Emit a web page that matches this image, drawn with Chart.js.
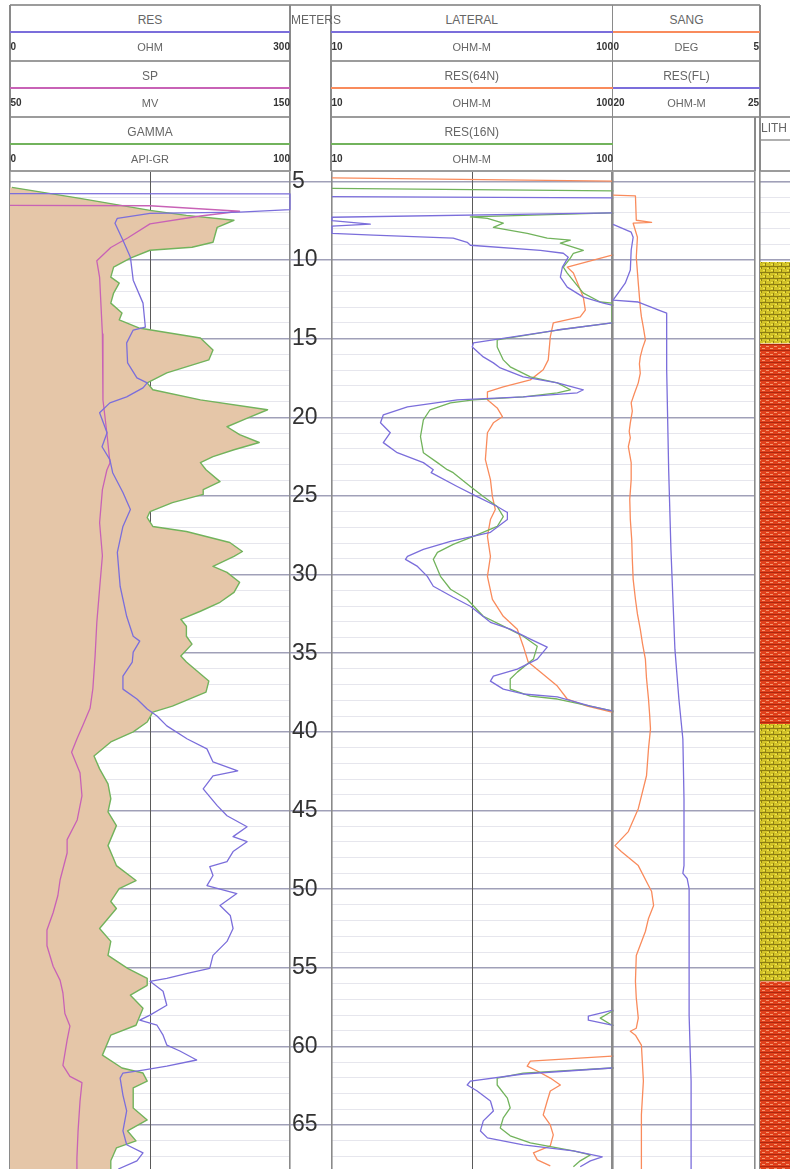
<!DOCTYPE html>
<html>
<head>
<meta charset="utf-8">
<title>Well log</title>
<script src="https://cdn.jsdelivr.net/npm/chart.js@4.4.1/dist/chart.umd.min.js"></script>
<style>
  html, body { margin:0; padding:0; background:#fff; }
  #page { position:relative; width:790px; height:1169px; overflow:hidden; font-family:"Liberation Sans", Arial, sans-serif; }
  #page canvas { position:absolute; top:171px; }
  .ln { position:absolute; }
  .tx { position:absolute; white-space:nowrap; line-height:1; }
</style>
</head>
<body>
<div id="page">
  <canvas id="track1" width="284" height="998" style="left:8px"></canvas>
  <canvas id="depthTrack" width="41" height="998" style="left:290px"></canvas>
  <canvas id="track2" width="284" height="998" style="left:330px"></canvas>
  <canvas id="track3" width="146" height="998" style="left:611px"></canvas>
  <canvas id="lithTrack" width="34" height="998" style="left:758px"></canvas>
</div>
<script>
// ---------------- DATA ----------------
const depthLabels = [5, 10, 15, 20, 25, 30, 35, 40, 45, 50, 55, 60, 65];

// Track 1
const gammaDepth = [
  5.38,6.08,6.84,7.16,7.47,7.92,8.87,9.19,9.38,9.88,
  10.45,11.09,11.47,12.1,12.74,13.37,13.81,14.32,14.96,15.72,
  16.35,17.17,17.81,18.25,18.89,19.52,20.03,20.6,21.1,21.6,
  22.06,22.5,22.88,23.33,24.09,24.6,24.9,25.42,25.99,26.37,
  26.94,27.26,27.96,28.53,28.84,29.48,29.86,30.49,31.13,31.76,
  32.33,32.84,33.28,33.92,34.42,35.18,35.56,36.77,37.47,38.36,
  38.74,39.37,40.0,40.64,41.53,42.35,43.3,44.25,45.08,45.96,
  47.23,48.06,48.5,49.45,49.96,50.78,51.23,51.86,52.5,53.32,
  54.21,55.03,55.67,56.11,56.74,57.57,58.65,59.28,60.55,61.37,
  61.69,62.2,62.64,63.91,64.67,65.37,66.0,66.45,67.27,67.79];
const gammaApi = [
  0.7,25,50,63,80,74,72.5,65,50,43,
  37,36,39,37,36,40,39,46,68,72.5,
  71,56,49,51,68,92,85,77.5,82,89,
  80,72.5,68,70,75,69,69,58,50,49,
  51,63,78.5,83,80,72.5,77.5,82,80,75,
  68,61,63,63,65,61,63,71,70,58,
  51,49,44,36,30,32,35,36,35,38,
  35,37,38,45,39,36,38,35,32,36,
  35,42,49,49,43,47.5,45,36,33,40,
  47.5,49,44,44,49,42,45,38,36,36];

const resDepth = [
  5.78,5.79,6.79,6.95,7.03,7.35,7.66,8.74,9.82,11.28,
  12.74,14.26,14.45,15.27,16.54,17.49,17.81,18.13,18.7,19.08,
  19.71,20.35,20.98,21.87,22.69,23.52,24.78,25.86,26.94,28.59,
  30.74,32.65,33.92,34.23,34.93,35.56,36.45,37.28,37.91,38.54,
  38.99,39.62,40.45,41.08,41.91,42.48,42.79,43.62,44.69,45.33,
  46.03,46.66,46.98,47.61,48.25,48.56,49.13,49.77,50.28,51.04,
  51.67,52.5,53.32,54.21,55.03,55.35,55.67,55.86,56.49,57.38,
  58.01,58.33,58.65,59.28,59.91,60.29,60.86,61.25,61.5,61.69,
  62.01,63.09,64.1,65.37,66.25,66.76,67.27,67.79];
const resOhm = [
  0,300,300,246,150,115,112.5,121,129,132,
  142.5,145,132,125,126,136,147,142.5,125,107,
  96,100,104,98.6,107,110,121,129,121,115,
  118,125,132,139,132,131,121,121,136,147,
  157.5,168,190,211,217.5,244,217.5,207,222,232.5,
  254,239,254,239,232.5,214,217.5,211,243,225,
  236,239,232.5,217.5,214,190,168,150,164,168,
  150,139,157.5,164,168,182,200,168,142.5,121,
  118,121,125,121,125,142.5,136,116];

const spDepth = [
  6.52,6.55,6.9,7.2,7.7,8.6,9.2,10.05,11.1,14.7,
  18.9,21.0,22.9,23.35,24.6,26.7,28.8,30.9,33.06,35.15,
  37.24,38.5,39.6,40.4,41.3,42.6,44.06,45.6,46.85,47.7,
  49.4,50.4,51.5,52.6,53.6,54.9,55.8,56.6,57.9,58.7,
  59.6,61.2,61.9,62.3,63.5,65.4,67.1,67.79];
const spMv = [
  50,100,132,118,100,92,86,81,82,83,
  83.2,84.6,85.7,84.6,83,82,83,82,81,80.4,
  79.6,78.6,76,74,72,75,75.7,74,70.4,70.4,
  67.9,67.1,65.4,63.2,63.2,65.4,67.9,68.9,69.6,71.4,
  70.4,68.9,71.4,75.7,75,74.3,73.9,73.9];

// Track 2
const lateralDepth = [
  5.97,6.05,6.1,6.95,7.0,7.28,7.5,7.72,7.85,8.3,
  8.42,8.61,8.87,9.06,9.38,9.57,9.82,10.45,11.09,11.72,
  12.36,12.74,12.87,13.0,13.95,14.0,14.45,15.27,15.53,16.16,
  16.54,16.86,17.43,17.81,18.25,18.44,18.7,18.89,19.33,19.84,
  20.35,20.98,21.61,22.25,22.88,23.33,23.52,24.4,25.04,25.67,
  26.05,26.5,27.31,27.89,28.4,28.84,29.03,29.48,30.11,30.74,
  31.44,32.01,33.03,33.47,34.1,34.61,35.37,36.01,36.45,36.77,
  37.28,37.59,37.78,38.36,38.67,38.8,57.6,57.7,58.07,58.33,
  58.65,58.8,61.3,61.37,61.75,62.2,62.45,62.83,63.47,64.1,
  64.73,65.37,65.81,66.25,66.64,67.02,67.27,67.65];
const lateralOhmm = [
  10,100,150,150,100,10,10,13.7,10,10,
  14.05,27.1,30.4,31.2,55.5,67.0,69.8,66.5,65.4,69.2,
  79.0,93.1,100,150,150,100,63.8,32.0,31.7,34.7,
  37.7,39.9,48.2,63.8,79.0,75.2,48.2,28.0,18.6,15.25,
  14.9,16.15,15.25,17.1,21.2,23.0,22.6,28.0,33.0,38.9,
  42.3,42.3,36.8,26.5,21.2,18.6,18.3,20.2,21.9,23.0,
  27.1,31.2,36.8,43.3,51.1,58.7,54.1,45.9,37.7,36.8,
  40.9,48.2,63.8,83.7,100,150,150,100,82.3,82.3,
  100,150,150,100,48.2,31.2,30.4,33.0,36.8,37.7,
  34.7,33.9,35.9,48.2,72.8,92.3,83.7,77.0];

const res64Depth = [
  4.78,4.98,5.05,9.6,9.69,10.45,10.83,12.36,13.18,13.62,
  14.0,14.89,16.35,16.98,17.62,18.06,18.38,18.89,19.4,19.96,
  20.35,20.98,22.69,23.96,25.04,25.86,26.5,27.57,28.84,30.11,
  31.57,32.65,33.47,34.55,35.56,36.2,37.09,37.91,38.36,38.74,
  38.85,60.5,60.61,60.93,61.25,61.56,62.01,62.45,62.83,63.47,
  64.35,64.99,65.62,66.32,66.76,67.21,67.59];
const res64Ohmm = [
  10,100,150,150,100,69.2,72.8,79,80.3,77,
  61.7,60.2,59.2,56.8,51.1,40.9,35.9,35.9,38.9,40.6,
  37.7,35.9,35.3,36.8,37.4,38.3,36.8,35.9,36.8,35.9,
  37.4,40.9,45.9,48.2,50.2,55.5,63.8,69.2,81.6,100,
  150,150,100,51.1,49.8,54.1,60.2,65.4,60.2,58.7,
  56.8,60.2,61.7,60.2,52.4,54.1,60.2];

const res16Depth = [
  5.45,5.6,5.65,6.95,7.0,7.26,7.35,7.66,7.92,8.3,
  8.61,8.74,8.93,9.38,9.57,9.88,10.45,10.83,12.1,12.67,
  12.74,14.0,14.45,15.08,15.53,16.35,16.79,17.43,17.81,18.25,
  18.44,18.7,18.89,19.08,19.52,20.16,21.23,22.25,22.88,23.33,
  23.52,24.4,25.04,25.67,26.31,26.94,27.57,28.08,28.59,29.03,
  30.11,30.93,31.57,32.65,33.28,33.92,34.55,35.37,36.2,36.64,
  37.28,37.72,37.91,38.36,38.67,38.8,57.65,57.76,58.2,58.65,
  58.75,61.3,61.37,61.69,62.01,62.45,63.28,63.91,64.54,65.18,
  65.68,66.13,66.64,66.89,67.27,67.65];
const res16Ohmm = [
  10,100,150,150,100,31.2,35.9,40.9,37.7,49.8,
  58.7,71.0,65.4,79.0,72.8,71.0,67.0,69.2,79.0,90.8,
  100,100,63.8,38.9,38.9,40.9,43.3,51.1,63.8,71.0,
  63.8,48.2,32.0,26.5,22.4,21.2,20.7,21.2,23.8,25.8,
  27.1,31.2,34.7,38.9,40.9,38.9,32.0,27.1,23.8,23.0,
  24.4,26.5,30.4,34.7,40.9,48.2,54.1,52.4,45.9,43.3,
  43.3,51.1,63.8,83.7,100,150,150,100,90.8,100,
  150,150,100,48.2,38.9,38.9,42.3,43.3,40.9,39.9,
  43.3,51.1,72.8,83.7,77.0,72.8];

// Track 3
const sangDepth = [
  5.88,5.92,7.47,7.6,7.66,8.55,9.82,11.47,12.99,13.6,
  14.3,15.08,15.6,16.16,16.6,17.2,17.81,18.5,19.08,19.6,
  20.35,20.9,21.3,21.87,22.88,23.96,25.2,26.5,27.8,29.03,
  30.3,31.57,32.5,33.47,34.4,35.37,36.6,37.91,38.9,39.81,
  41.08,42.79,44.88,46.34,47.23,47.61,48.5,49.77,50.15,51.04,
  51.86,52.69,54.21,55.86,56.93,58.2,58.84,59.03,59.28,59.91,
  62.2,64.35,67.52,67.79];
const sangDeg = [
  0,0.79,0.82,1.36,0.71,0.86,0.82,0.89,0.96,1.0,
  1.07,1.14,1.04,0.96,0.93,0.96,0.89,0.75,0.64,0.68,
  0.61,0.57,0.61,0.54,0.64,0.64,0.59,0.61,0.66,0.68,
  0.71,0.79,0.86,0.96,1.04,1.14,1.18,1.25,1.29,1.32,
  1.25,1.18,0.89,0.54,0.07,0.29,0.89,1.25,1.36,1.43,
  1.25,1.14,0.82,0.79,0.82,0.89,0.82,0.61,0.79,1.0,
  1.07,1.0,1.0,1.0];

const resFlDepth = [
  7.73,8.23,8.55,9.38,10.64,11.47,12.1,12.55,12.67,13.18,
  13.37,16.98,23.33,28.4,34.74,37.91,40.45,44.25,48.5,49.0,
  49.32,49.96,58.01,62.2,67.79];
const resFlOhmm = [
  20.0,20.64,20.71,20.64,20.61,20.43,20.18,20.0,20.89,21.61,
  21.89,21.89,21.96,22.04,22.18,22.32,22.46,22.5,22.5,22.46,
  22.61,22.68,22.68,22.75,22.75];

// Lithology
const lithTop  = [10.12, 15.3, 39.5, 55.86];
const lithBase = [15.3, 39.5, 55.86, 67.79];
const lithKind = ['sand', 'shale', 'sand', 'shale'];

// Header labels
const t1Names = ['RES', 'SP', 'GAMMA'];
const t1Units = ['OHM', 'MV', 'API-GR'];
const t1Min = ['0', '50', '0'];
const t1Max = ['300', '150', '100'];
const t2Names = ['LATERAL', 'RES(64N)', 'RES(16N)'];
const t2Units = ['OHM-M', 'OHM-M', 'OHM-M'];
const t2Min = ['10', '10', '10'];
const t2Max = ['100', '100', '100'];
const t3Names = ['SANG', 'RES(FL)'];
const t3Units = ['DEG', 'OHM-M'];
const t3Min = ['0', '20'];
const t3Max = ['5', '25'];

// ---------------- STYLE ----------------
const PURPLE = '#7b6edb', PINK = '#c862b6', GREEN = '#72b35c', ORANGE = '#f98b5c';
const TAN = 'rgb(229,198,168)';
const EDGE = '#8a8a8a', MID = '#5a5a5a';
const MAJOR = 'rgba(150,150,176,0.9)', MINOR = 'rgba(224,224,232,0.8)';
const SEP = '#9c9c9c';
const depthMin = 4.34, depthMax = 67.79;
const FONT = "'Liberation Sans', Arial, sans-serif";
Chart.defaults.font.family = FONT;

const page = document.getElementById('page');
function seg(x1, y1, x2, y2, color, w) {
  const d = document.createElement('div');
  d.className = 'ln';
  if (y1 === y2) { d.style.left = x1 + 'px'; d.style.top = (y1 - w / 2) + 'px'; d.style.width = (x2 - x1) + 'px'; d.style.height = w + 'px'; }
  else { d.style.left = (x1 - w / 2) + 'px'; d.style.top = y1 + 'px'; d.style.width = w + 'px'; d.style.height = (y2 - y1) + 'px'; }
  d.style.background = color;
  page.appendChild(d);
}
function label(x, y, s, align, size, color, weight) {
  const d = document.createElement('div');
  d.className = 'tx';
  d.textContent = s;
  d.style.left = x + 'px'; d.style.top = y + 'px';
  d.style.fontSize = size + 'px'; d.style.color = color; d.style.fontWeight = weight || 'normal';
  const tx = align === 'center' ? '-50%' : align === 'right' ? '-100%' : '0';
  d.style.transform = 'translate(' + tx + ',-50%)';
  page.appendChild(d);
}

// ---------------- HEADER ----------------
const nameY = [20, 76, 132], curveY = [32, 88, 144], unitY = [47, 103, 159];
function header(x1, x2, names, units, mins, maxs, colors, maxX) {
  names.forEach((n, i) => {
    label((x1 + x2) / 2, nameY[i], n, 'center', 12, '#666');
    seg(x1, curveY[i], x2, curveY[i], colors[i], 1.6);
    label((x1 + x2) / 2, unitY[i], units[i], 'center', 11, '#666');
    label(x1 + 0.5, unitY[i], mins[i], 'left', 10, '#333', 'bold');
    label(maxX, unitY[i], maxs[i], 'right', 10, '#333', 'bold');
  });
}
seg(10, 5, 760, 5, SEP, 1.2);
[61, 117].forEach(y => { seg(10, y, 290, y, SEP, 1.5); seg(331, y, 760, y, SEP, 1.5); });
seg(760, 117, 790, 117, SEP, 1.5);
seg(760, 140, 790, 140, '#b0b0b0', 1.2);
seg(10, 171, 290, 171, SEP, 1.5); seg(331, 171, 755, 171, SEP, 1.5); seg(760, 171, 790, 171, SEP, 1.5);
[10, 290, 331, 612.5, 760].forEach(x => seg(x, 5, x, 171, EDGE, 1.5));
seg(755, 117, 755, 171, EDGE, 1.5);
header(10, 290, t1Names, t1Units, t1Min, t1Max, [PURPLE, PINK, GREEN], 290);
header(331, 612.5, t2Names, t2Units, t2Min, t2Max, [PURPLE, ORANGE, GREEN], 613);
header(613, 760, t3Names, t3Units, t3Min, t3Max, [ORANGE, PURPLE], 759);
label(291, 20, 'METERS', 'left', 12, '#666');
label(761, 128, 'LITH', 'left', 12, '#666');

// ---------------- CHART HELPERS ----------------
const meterMarks = [];
for (let d = Math.ceil(depthMin); d <= Math.floor(depthMax); d++) meterMarks.push(d);
const isMajor = v => Math.abs(v % 5) < 1e-9;

function series(depths, values) { return depths.map((d, i) => ({ x: values[i], y: d })); }
function zeroFit(s) { s.width = 0; s.paddingTop = 0; s.paddingBottom = 0; s.paddingLeft = 0; s.paddingRight = 0; }
function depthAxis(z) {
  return {
    type: 'linear', position: 'left', min: depthMin, max: depthMax, reverse: true, z: z,
    afterBuildTicks: s => { s.ticks = meterMarks.map(v => ({ value: v })); },
    afterFit: zeroFit,
    ticks: { display: false }, border: { display: false },
    grid: { drawTicks: false, color: c => isMajor(c.tick.value) ? MAJOR : MINOR, lineWidth: c => isMajor(c.tick.value) ? 1.6 : 1 }
  };
}
function gridX(marks) {
  return {
    type: 'linear', axis: 'x', position: 'bottom', min: 0, max: 1, z: 1,
    afterBuildTicks: s => { s.ticks = marks.map(v => ({ value: v })); },
    afterFit: s => { s.height = 0; s.paddingLeft = 0; s.paddingRight = 0; },
    ticks: { display: false }, border: { display: false },
    grid: { drawTicks: false, color: c => (c.tick.value === 0 || c.tick.value === 1) ? EDGE : MID,
            lineWidth: c => (c.tick.value === 0 || c.tick.value === 1) ? 1.6 : 1 }
  };
}
function hiddenX(type, min, max) { return { type: type, axis: 'x', display: false, min: min, max: max }; }
function opts(scales, padL, padR) {
  return {
    responsive: false, animation: false, indexAxis: 'y', events: [],
    layout: { autoPadding: false, padding: { left: padL, right: padR, top: 0, bottom: 0 } },
    plugins: { legend: { display: false }, tooltip: { enabled: false } },
    elements: { point: { radius: 0 }, line: { tension: 0, borderJoinStyle: 'round' } },
    scales: scales
  };
}
function curve(name, depths, values, axisId, color, extra) {
  return Object.assign({ label: name, data: series(depths, values), xAxisID: axisId, yAxisID: 'y',
    borderColor: color, borderWidth: 1.3, pointRadius: 0, fill: false, clip: 1.5 }, extra || {});
}

// ---------------- TRACK 1 ----------------
new Chart(document.getElementById('track1'), {
  type: 'line',
  data: { datasets: [
    curve('RES', resDepth, resOhm, 'xRES', PURPLE),
    curve('SP', spDepth, spMv, 'xSP', PINK),
    curve('GAMMA', gammaDepth, gammaApi, 'xGR', GREEN, { backgroundColor: TAN, fill: { value: 0 }, borderWidth: 1.4 })
  ] },
  options: opts({
    y: depthAxis(1),
    xGR: hiddenX('linear', 0, 100), xSP: hiddenX('linear', 50, 150), xRES: hiddenX('linear', 0, 300),
    xGrid: gridX([0, 0.5, 1])
  }, 2, 2)
});

// ---------------- DEPTH ----------------
new Chart(document.getElementById('depthTrack'), {
  type: 'line',
  data: { datasets: [] },
  options: {
    responsive: false, animation: false, events: [],
    layout: { autoPadding: false, padding: 0 },
    plugins: { legend: { display: false }, tooltip: { enabled: false } },
    scales: {
      y: { type: 'linear', position: 'left', min: depthMin, max: depthMax, reverse: true,
        afterBuildTicks: s => { s.ticks = depthLabels.map(v => ({ value: v })); },
        afterFit: zeroFit,
        ticks: { mirror: true, padding: 2, color: '#333', font: { size: 23, family: FONT }, callback: v => String(v) },
        border: { display: false },
        grid: { drawTicks: false, color: MAJOR, lineWidth: 1.6 } },
      x: { type: 'linear', display: false, min: 0, max: 1 }
    }
  }
});

// ---------------- TRACK 2 ----------------
new Chart(document.getElementById('track2'), {
  type: 'line',
  data: { datasets: [
    curve('LATERAL', lateralDepth, lateralOhmm, 'xLat', PURPLE),
    curve('RES(16N)', res16Depth, res16Ohmm, 'x16', GREEN),
    curve('RES(64N)', res64Depth, res64Ohmm, 'x64', ORANGE)
  ] },
  options: opts({
    y: depthAxis(0),
    xLat: hiddenX('logarithmic', 10, 100), x64: hiddenX('logarithmic', 10, 100), x16: hiddenX('logarithmic', 10, 100),
    xGrid: gridX([0, 0.5, 1])
  }, 2, 2)
});

// ---------------- TRACK 3 ----------------
new Chart(document.getElementById('track3'), {
  type: 'line',
  data: { datasets: [
    curve('RES(FL)', resFlDepth, resFlOhmm, 'xFl', PURPLE),
    curve('SANG', sangDepth, sangDeg, 'xSang', ORANGE)
  ] },
  options: opts({
    y: depthAxis(0),
    xSang: hiddenX('linear', 0, 5), xFl: hiddenX('linear', 20, 25),
    xGrid: gridX([0, 1])
  }, 2, 2)
});

// ---------------- LITHOLOGY ----------------
const lithCanvas = document.getElementById('lithTrack');
const lctx = lithCanvas.getContext('2d');
function tile(base, marks) {
  const c = document.createElement('canvas');
  c.width = 8; c.height = 6;
  const g = c.getContext('2d');
  g.fillStyle = base; g.fillRect(0, 0, 8, 6);
  marks(g);
  return lctx.createPattern(c, 'repeat');
}
const lithFill = {
  sand: tile('#d2c228', g => {
    g.fillStyle = '#f4e84a'; g.fillRect(1, 1, 2, 1); g.fillRect(5, 3, 2, 1);
    g.fillStyle = 'rgba(110,95,10,0.7)'; g.fillRect(0, 5, 8, 1); g.fillRect(3, 0, 1, 2); g.fillRect(7, 2, 1, 3);
  }),
  shale: tile('#e0401b', g => {
    g.fillStyle = '#f59a72'; g.fillRect(0, 1, 3, 1); g.fillRect(4, 3, 3, 1);
    g.fillStyle = 'rgba(150,30,10,0.7)'; g.fillRect(0, 5, 8, 1);
  })
};
new Chart(lithCanvas, {
  type: 'line',
  data: { datasets: lithTop.map((t, i) => ({
    label: lithKind[i], data: [{ x: 1, y: t }, { x: 1, y: lithBase[i] }], xAxisID: 'xLith', yAxisID: 'y',
    borderColor: 'transparent', borderWidth: 0, pointRadius: 0, fill: { value: 0 }, backgroundColor: lithFill[lithKind[i]]
  })) },
  options: opts({
    y: depthAxis(0),
    xLith: hiddenX('linear', 0, 1),
    xGrid: gridX([0])
  }, 2, 0)
});
</script>
</body>
</html>
